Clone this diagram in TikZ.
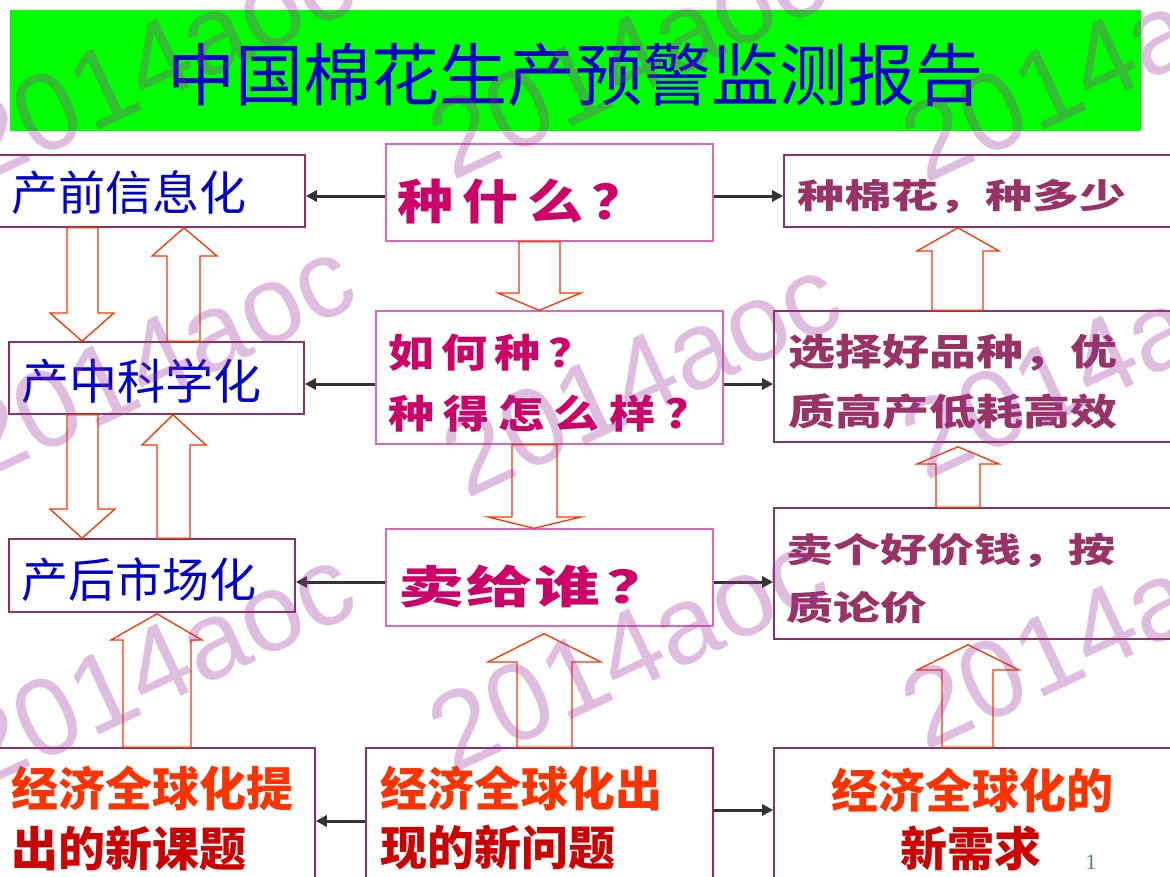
\documentclass[tikz,border=0pt]{standalone}
\usepackage{fontspec}
\usepackage{graphicx}
\usetikzlibrary{arrows.meta,calc}
\newfontfamily\cjk{Noto Sans CJK SC}
\newfontfamily\wmfont{Liberation Sans}
\newfontfamily\numfont{Liberation Serif}
\definecolor{bannergreen}{RGB}{0,255,0}
\definecolor{titleblue}{RGB}{0,0,204}
\definecolor{leftborder}{RGB}{140,50,100}
\definecolor{midborder}{RGB}{221,102,187}
\definecolor{midtext}{RGB}{204,0,102}
\definecolor{righttext}{RGB}{153,51,102}
\definecolor{arrred}{RGB}{255,51,0}
\definecolor{botred}{RGB}{255,51,0}
\definecolor{botdark}{RGB}{204,0,0}
\definecolor{connblack}{RGB}{51,51,51}
\definecolor{wmcol}{RGB}{156,52,156}
\definecolor{pagenum}{RGB}{90,140,90}
\newcommand\fsz[1]{\fontsize{#1}{#1}\selectfont}
\newcommand\lsp[1]{\addfontfeatures{LetterSpace=#1}}
\newcommand\vsc[2]{\scalebox{1}[#1]{#2}}
% block arrow: from-anchor, to-anchor, shaft xl, shaft xr, head xl, head xr, tip x, head base y, tip offset
\newcommand\blockarr[9]{%
  \draw[blk] (#3,0 |- #1) -- (#3,#8) -- (#5,#8) -- ($(#7,0 |- #2)+(0,#9)$) -- (#6,#8) -- (#4,#8) -- (#4,0 |- #1) -- cycle;}
\tikzset{
  lbox/.style={draw=leftborder,line width=1.6pt,fill=white,inner sep=0pt},
  mbox/.style={draw=midborder,line width=1.4pt,fill=white,inner sep=0pt},
  rbox/.style={draw=leftborder,line width=1.6pt,fill=white,inner sep=0pt},
  blk/.style={draw=arrred,line width=1.3pt,fill=white,line join=miter},
  conn/.style={draw=connblack,line width=3pt,-{Triangle[length=11pt,width=11pt]}},
  ltext/.style={inner sep=0pt,anchor=west,text=titleblue,font=\cjk\fsz{47}},
  mtext/.style={inner sep=0pt,anchor=west,text=midtext},
  rtext/.style={inner sep=0pt,anchor=west,text=righttext,font=\cjk\bfseries\fsz{47}},
  btext/.style={inner sep=0pt,font=\cjk\bfseries\fsz{47}},
  wm/.style={inner sep=0pt,anchor=base west,rotate=25,text=wmcol,opacity=0.32,font=\wmfont\fsz{110}},
}
\begin{document}
\begin{tikzpicture}[x=1pt,y=-1pt]
\useasboundingbox (0,0) rectangle (1170,876);
\clip (0,0) rectangle (1170,876);
\fill[white] (0,0) rectangle (1170,876);
% banner
\node[fill=bannergreen,inner sep=0pt,minimum width=1131pt,minimum height=121pt] (banner) at (575.5,70.5) {};
\node[inner sep=0pt,text=titleblue,font=\cjk\fsz{68}] (title) at (575,75) {中国棉花生产预警监测报告};
% boxes
\node[lbox,minimum width=307pt,minimum height=72pt] (qian) at (151.5,191) {};
\node[lbox,minimum width=295pt,minimum height=72pt] (zhong) at (156.5,378) {};
\node[lbox,minimum width=286pt,minimum height=73pt] (hou) at (152,575.5) {};
\node[mbox,minimum width=327pt,minimum height=97pt] (q1) at (549.5,192.5) {};
\node[mbox,minimum width=347pt,minimum height=133pt] (q2) at (549.5,377.5) {};
\node[mbox,minimum width=327pt,minimum height=97pt] (q3) at (549.5,577.5) {};
\node[rbox,minimum width=396pt,minimum height=72pt] (r1) at (982,191) {};
\node[rbox,minimum width=406pt,minimum height=131pt] (r2) at (977,376.5) {};
\node[rbox,minimum width=406pt,minimum height=131pt] (r3) at (977,573.5) {};
\node[lbox,minimum width=320pt,minimum height=142pt] (b1) at (155,819) {};
\node[lbox,minimum width=347pt,minimum height=142pt] (b2) at (539.5,819) {};
\node[lbox,minimum width=406pt,minimum height=142pt] (b3) at (977,819) {};
% black connectors
\draw[conn] (q1.west |- 0,196) -- (qian.east |- 0,196);
\draw[conn] (q1.east |- 0,196) -- (r1.west |- 0,196);
\draw[conn] (q2.west |- 0,384) -- (zhong.east |- 0,384);
\draw[conn] (q2.east |- 0,384) -- (r2.west |- 0,384);
\draw[conn] (q3.west |- 0,582) -- (hou.east |- 0,582);
\draw[conn] (q3.east |- 0,582) -- (r3.west |- 0,582);
\draw[conn] (b2.west |- 0,821) -- (b1.east |- 0,821);
\draw[conn] (b2.east |- 0,810) -- (b3.west |- 0,810);
% block arrows
\blockarr{qian.south}{zhong.north}{67}{98}{50}{114}{82}{313}{0}
\blockarr{zhong.south}{hou.north}{67}{98}{50}{115}{82}{509}{0}
\blockarr{q1.south}{q2.north}{519}{560}{498}{581}{539}{293}{0}
\blockarr{q2.south}{q3.north}{512}{557}{488}{581}{534}{517}{0}
\blockarr{zhong.north}{qian.south}{167}{200}{152}{217}{184}{256}{0}
\blockarr{hou.north}{zhong.south}{157}{190}{142}{206}{173}{445}{0}
\blockarr{b1.north}{hou.south}{123}{191}{111}{202}{157}{640}{1}
\blockarr{b2.north}{q3.south}{517}{572}{488}{601}{544}{662}{7}
\blockarr{r2.north}{r1.south}{932}{983}{917}{999}{958}{251}{0}
\blockarr{r3.north}{r2.south}{936}{980}{917}{999}{958}{464}{4}
\blockarr{b3.north}{r3.south}{942}{993}{917}{1019}{968}{670}{5}
% texts
\node[ltext] (tqian) at (11,193) {产前信息化};
\node[ltext,font=\cjk\fsz{48}] (tzhong) at (21,381) {产中科学化};
\node[ltext] (thou) at (21,580) {产后市场化};
\node[mtext] (tq1) at (397,201) {\vsc{0.85}{\cjk\bfseries\fsz{56}\lsp{16}种什么\hspace{8pt}？}};
\node[mtext] (tq2a) at (388,353) {\vsc{0.85}{\cjk\bfseries\fsz{46}\lsp{16}如何种？}};
\node[mtext] (tq2b) at (388,414) {\vsc{0.85}{\cjk\bfseries\fsz{46}\lsp{20}种得怎么样?}};
\node[mtext] (tq3) at (398,586) {\vsc{0.68}{\cjk\bfseries\fsz{66}\lsp{3}卖给谁\hspace{6pt}？}};
\node[rtext] (tr1) at (797,197) {\vsc{0.72}{种棉花，种多少}};
\node[rtext] (tr2a) at (788,353) {\vsc{0.78}{选择好品种，优}};
\node[rtext] (tr2b) at (788,412) {\vsc{0.78}{质高产低耗高效}};
\node[rtext] (tr3a) at (786,551) {\vsc{0.72}{卖个好价钱，按}};
\node[rtext] (tr3b) at (786,608) {\vsc{0.72}{质论价}};
\node[btext,anchor=west,text=botred] (tb1a) at (11,788) {经济全球化提};
\node[btext,anchor=west,text=botdark] (tb1b) at (11,848) {出的新课题};
\node[btext,anchor=west,text=botred] (tb2a) at (380,788) {经济全球化出};
\node[btext,anchor=west,text=botdark] (tb2b) at (380,848) {现的新问题};
\node[btext,text=botred] (tb3a) at (972,790) {经济全球化的};
\node[btext,text=botdark] (tb3b) at (971,848) {新需求};
% page number
\node[inner sep=0pt,text=pagenum,font=\numfont\fsz{22}] (pnum) at (1091,862) {1};
% watermarks
\node[wm] (w1) at (-20,185) {2014aoc};
\node[wm] (w2) at (452,182) {2014aoc};
\node[wm] (w3) at (925,185) {2014aoc};
\node[wm] (w4) at (-20,482) {2014aoc};
\node[wm] (w5) at (466,500) {2014aoc};
\node[wm] (w6) at (925,482) {2014aoc};
\node[wm] (w7) at (-20,790) {2014aoc};
\node[wm] (w8) at (452,775) {2014aoc};
\node[wm] (w9) at (925,752) {2014aoc};
\end{tikzpicture}
\end{document}
